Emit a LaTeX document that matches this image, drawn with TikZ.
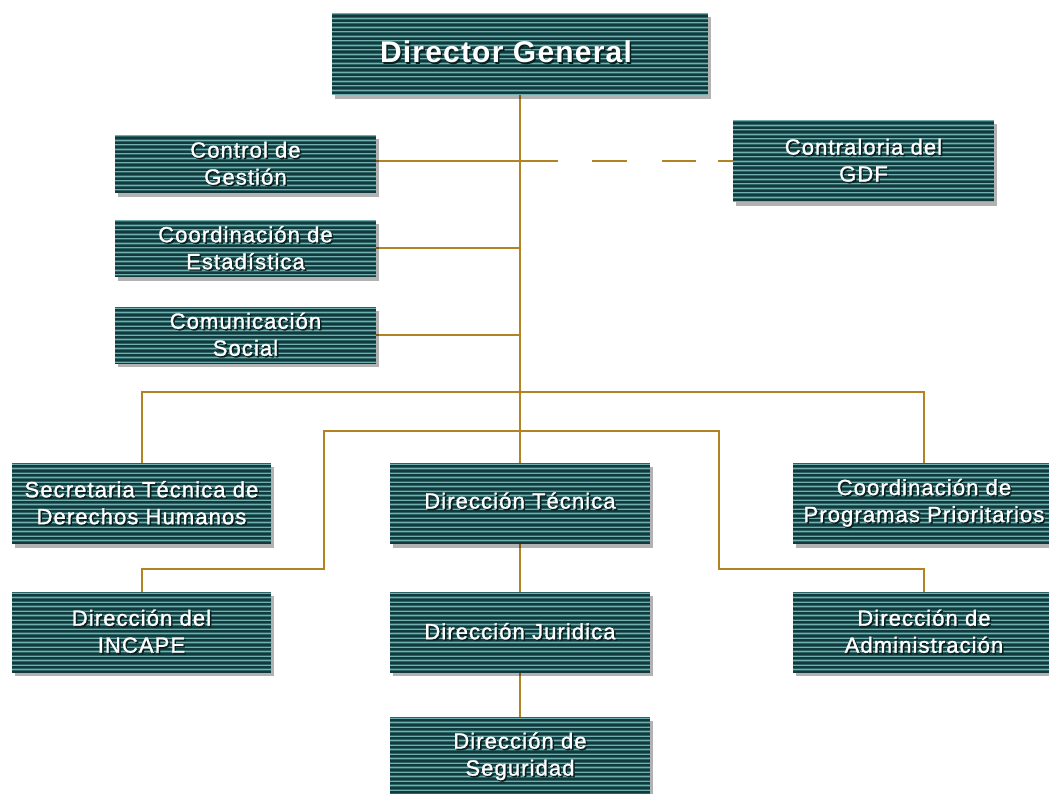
\documentclass[tikz,border=0pt]{standalone}
\usepackage{fontspec}
\setmainfont{Liberation Sans}
\newfontfamily\boxfont[LetterSpace=5,FakeBold=1.2]{Liberation Sans}
\newfontfamily\titlefont[LetterSpace=4]{Liberation Sans Bold}
\usetikzlibrary{shadows}
\pgfdeclarelayer{background}
\pgfsetlayers{background,main}
\definecolor{tealmid}{RGB}{42,100,100}
\definecolor{tealdark}{RGB}{18,58,60}
\definecolor{teallight}{RGB}{112,176,176}
\definecolor{linec}{RGB}{178,130,35}
\definecolor{txtsh}{RGB}{10,32,32}
\newcommand\sht[1]{\leavevmode\rlap{\hspace{1.5pt}\raisebox{-1.5pt}{\color{txtsh}#1}}{\color{white}#1}}
\tikzset{
  orgbox/.style={rectangle, inner sep=0pt, fill=tealmid, align=center,
    font=\boxfont\fontsize{22}{27}\selectfont,
    drop shadow={shadow xshift=3pt, shadow yshift=-4pt, fill=black, opacity=0.3},
    path picture={
      \foreach \k in {0,4.5,...,100}{
        \fill[teallight] ([yshift=-\k pt-0.5pt]path picture bounding box.north west) rectangle ([yshift=-\k pt-1.5pt]path picture bounding box.north east);
        \fill[tealdark] ([yshift=-\k pt-2.3pt]path picture bounding box.north west) rectangle ([yshift=-\k pt-4.1pt]path picture bounding box.north east);
      }
    }},
  conn/.style={draw=linec, line width=2pt}
}
\begin{document}
\begin{tikzpicture}[x=1pt,y=-1pt]
\useasboundingbox (0,0) rectangle (1049,794);
\clip (0,0) rectangle (1049,794);

% boxes
\node[orgbox, minimum width=376pt, minimum height=82pt] (dg) at (520,54)
  {\raisebox{4pt}{\hspace{-28pt}\titlefont\fontsize{30}{34}\selectfont\sht{Director General}}};

\node[orgbox, minimum width=261pt, minimum height=58pt] (cg) at (245.5,164) {\sht{Control de}\\\sht{Gestión}};
\node[orgbox, minimum width=261pt, minimum height=57pt] (ce) at (245.5,248.5) {\sht{Coordinación de}\\\sht{Estadística}};
\node[orgbox, minimum width=261pt, minimum height=56pt] (cs) at (245.5,335) {\sht{Comunicación}\\\sht{Social}};
\node[orgbox, minimum width=261pt, minimum height=82pt] (gdf) at (863.5,161) {\sht{Contraloria del}\\\sht{GDF}};

\node[orgbox, minimum width=259pt, minimum height=81pt] (sec) at (141.5,503.5) {\sht{Secretaria Técnica de}\\\sht{Derechos Humanos}};
\node[orgbox, minimum width=260pt, minimum height=81pt] (dt) at (520,503.5) {\raisebox{6pt}{\sht{Dirección Técnica}}};
\node[orgbox, minimum width=262pt, minimum height=81pt] (cpp) at (924,503.5) {\sht{Coordinación de}\\\sht{Programas Prioritarios}};

\node[orgbox, minimum width=259pt, minimum height=80pt] (inc) at (141.5,632) {\sht{Dirección del}\\\sht{INCAPE}};
\node[orgbox, minimum width=260pt, minimum height=80pt] (dj) at (520,632) {\sht{Dirección Juridica}};
\node[orgbox, minimum width=262pt, minimum height=80pt] (adm) at (924,632) {\sht{Dirección de}\\\sht{Administración}};

\node[orgbox, minimum width=260pt, minimum height=80pt] (seg) at (520,757) {\sht{Dirección de}\\\sht{Seguridad}};

% junction coordinates
\coordinate (b1) at (520,392);
\coordinate (b2) at (520,431);
\coordinate (j1) at (324,569);
\coordinate (j2) at (719,569);
\coordinate (dashend) at (558,161);

% connectors (under the boxes)
\begin{pgfonlayer}{background}
\fill[white] (0,0) rectangle (1049,794);
\draw[conn] (dg.south) -- (dt.north);
\draw[conn] ([yshift=3pt]cg.east) -- (dashend);
\draw[conn, dash pattern=on 15pt off 22pt on 34pt off 35pt on 35pt off 34pt] (gdf.west) -- (dashend);
\draw[conn] (ce.east) -- (ce.east -| dg.south);
\draw[conn] (cs.east) -- (cs.east -| dg.south);
\draw[conn] (sec.north) |- (b1) -| (cpp.north);
\draw[conn] (inc.north) |- (j1) |- (b2) -| (j2) -| (adm.north);
\draw[conn] (dt.south) -- (dj.north);
\draw[conn] (dj.south) -- (seg.north);
\end{pgfonlayer}
\end{tikzpicture}
\end{document}
